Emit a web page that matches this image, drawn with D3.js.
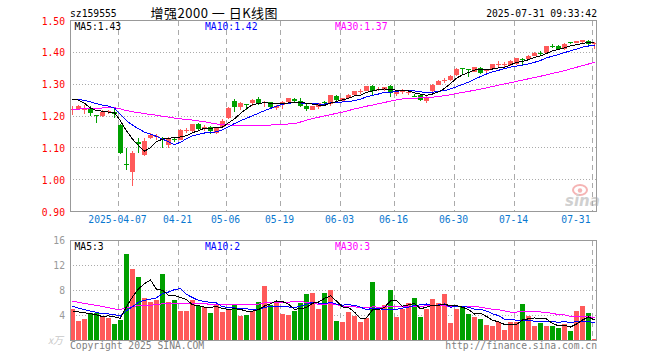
<!DOCTYPE html>
<html><head><meta charset="utf-8">
<script src="https://cdn.jsdelivr.net/npm/d3@7"></script>
<style>html,body{margin:0;padding:0;background:#fff;}svg{display:block}</style>
</head><body><svg id="c" width="660" height="360"></svg>
<script>
const symbol = "sz159555";
const title = "增强2000 一 日K线图";
const stamp = "2025-07-31 09:33:42";
const dates = ["03-25","03-26","03-27","03-28","03-31","04-01","04-02","04-03","04-07","04-08",
"04-09","04-10","04-11","04-14","04-15","04-16","04-17","04-18","04-21","04-22",
"04-23","04-24","04-25","04-28","04-29","04-30","05-06","05-07","05-08","05-09",
"05-12","05-13","05-14","05-15","05-16","05-19","05-20","05-21","05-22","05-23",
"05-26","05-27","05-28","05-29","05-30","06-03","06-04","06-05","06-06","06-09",
"06-10","06-11","06-12","06-13","06-16","06-17","06-18","06-19","06-20","06-23",
"06-24","06-25","06-26","06-27","06-30","07-01","07-02","07-03","07-04","07-07",
"07-08","07-09","07-10","07-11","07-14","07-15","07-16","07-17","07-18","07-21",
"07-22","07-23","07-24","07-25","07-28","07-29","07-30","07-31"];
const opens = [1.218,1.223,1.219,1.225,1.203,1.200,1.212,1.212,1.173,1.050,
1.024,1.118,1.079,1.130,1.134,1.130,1.108,1.128,1.126,1.152,
1.152,1.174,1.160,1.166,1.148,1.166,1.194,1.246,1.228,1.238,
1.240,1.253,1.240,1.244,1.225,1.235,1.243,1.253,1.248,1.232,
1.220,1.228,1.244,1.238,1.264,1.248,1.256,1.267,1.276,1.279,
1.293,1.282,1.282,1.295,1.270,1.275,1.272,1.263,1.267,1.246,
1.277,1.298,1.310,1.313,1.329,1.351,1.348,1.339,1.350,1.340,
1.347,1.360,1.360,1.360,1.363,1.379,1.378,1.390,1.398,1.399,
1.421,1.420,1.410,1.431,1.430,1.431,1.436,1.426];
const highs = [1.230,1.235,1.235,1.230,1.204,1.220,1.220,1.224,1.175,1.100,
1.090,1.130,1.130,1.148,1.145,1.135,1.135,1.133,1.158,1.162,
1.176,1.178,1.172,1.170,1.165,1.190,1.227,1.253,1.245,1.238,
1.252,1.259,1.248,1.244,1.236,1.246,1.258,1.258,1.258,1.238,
1.232,1.242,1.248,1.267,1.266,1.258,1.268,1.279,1.285,1.294,
1.298,1.290,1.292,1.298,1.282,1.285,1.282,1.270,1.270,1.262,
1.300,1.312,1.320,1.328,1.350,1.352,1.349,1.355,1.353,1.348,
1.364,1.372,1.369,1.375,1.383,1.382,1.392,1.400,1.404,1.421,
1.425,1.424,1.428,1.434,1.437,1.440,1.440,1.433];
const lows = [1.204,1.218,1.207,1.200,1.178,1.197,1.207,1.195,1.082,1.030,
0.980,1.083,1.075,1.128,1.126,1.100,1.100,1.118,1.124,1.148,
1.150,1.155,1.152,1.145,1.145,1.163,1.190,1.214,1.218,1.218,
1.230,1.236,1.227,1.222,1.220,1.222,1.240,1.244,1.228,1.217,
1.218,1.222,1.234,1.232,1.246,1.245,1.254,1.265,1.270,1.277,
1.267,1.278,1.280,1.261,1.262,1.270,1.265,1.260,1.248,1.241,
1.275,1.296,1.303,1.311,1.327,1.329,1.324,1.337,1.332,1.330,
1.345,1.354,1.352,1.358,1.361,1.358,1.376,1.388,1.392,1.397,
1.413,1.408,1.408,1.426,1.428,1.430,1.424,1.412];
const closes = [1.222,1.230,1.222,1.209,1.202,1.213,1.216,1.207,1.085,1.046,
1.084,1.113,1.120,1.140,1.138,1.126,1.128,1.125,1.155,1.156,
1.174,1.158,1.166,1.154,1.163,1.185,1.225,1.228,1.240,1.236,
1.251,1.240,1.244,1.228,1.232,1.245,1.256,1.246,1.232,1.222,
1.232,1.240,1.241,1.266,1.249,1.256,1.267,1.277,1.279,1.293,
1.278,1.285,1.290,1.271,1.280,1.278,1.274,1.261,1.251,1.261,
1.298,1.310,1.313,1.326,1.348,1.349,1.346,1.353,1.334,1.343,
1.362,1.363,1.363,1.373,1.381,1.377,1.390,1.399,1.396,1.420,
1.419,1.410,1.426,1.429,1.436,1.438,1.426,1.428];
const volumes = [5.0,3.04,3.36,4.37,4.27,3.73,3.57,2.56,3.2,13.76,
11.36,10.08,6.72,6.08,6.4,10.56,6.08,6.4,4.64,4.64,
6.4,5.44,5.23,4.32,5.55,4.48,5.0,5.6,3.89,4.0,
4.64,6.08,8.64,5.6,6.24,4.16,4.0,4.64,5.92,7.36,
7.52,4.96,7.52,8.0,3.09,2.88,4.48,3.84,2.88,3.52,
9.28,4.8,5.6,8.0,3.68,4.96,5.92,6.72,3.68,4.96,
6.56,5.92,7.36,2.72,4.96,5.23,4.16,3.68,3.36,2.4,
2.24,2.88,1.6,2.88,2.88,5.76,3.84,2.24,2.72,2.24,
2.24,1.92,2.56,1.44,4.64,5.44,4.32,0.16];
// sessions before the visible window (needed only for the moving averages)
const prevCloses = [1.17,1.18,1.19,1.19,1.18,1.19,1.20,1.21,1.20,1.19,1.20,1.21,1.22,1.21,1.22,
1.21,1.22,1.23,1.22,1.22,1.24,1.25,1.26,1.255,1.26,1.245,1.272,1.284,1.242];
const prevVolumes = [9.5,8.8,9.2,8.6,9.0,9.4,8.8,5.6,5.2,5.8,5.0,5.4,5.6,5.2,5.3,
5.5,5.1,5.4,5.2,5.2,6.4,6.0,6.6,6.2,6.0,3.74,4.01,5.22,5.23];
const priceTicks = [1.5,1.4,1.3,1.2,1.1,1.0,0.9];
const priceGrid = [1.4,1.3,1.2,1.1,1.0];
const volTicks = [16,12,8,4];
const tickDates = ["04-07","04-21","05-06","05-19","06-03","06-16","06-30","07-14","07-31"];
const tickLabels = ["2025-04-07","04-21","05-06","05-19","06-03","06-16","06-30","07-14","07-31"];
const maPeriods = [5,10,30];
const maColors = ["#000000","#0000ff","#ff00ff"];

const RED = "#ff5a5a", GREEN = "#00a000", GRID = "#aaaaaa", FRAME = "#999999";
const MONO = "'DejaVu Sans Mono', monospace";
const svg = d3.select("#c");
const L = 70, R = 597;
const x = d3.scaleBand().domain(dates).range([L, R]).paddingInner(1/6).paddingOuter(0);
const cx = d => x(d) + x.bandwidth() / 2;
const y = d3.scaleLinear().domain([0.9, 1.5]).range([211.5, 20.5]);
const vy = d3.scaleLinear().domain([0, 16]).range([340, 240]);

function movingAvg(vals, prev, n) {
  const all = prev.concat(vals);
  return vals.map((v, i) => {
    const j = prev.length + i;
    return d3.mean(all.slice(j - n + 1, j + 1));
  });
}
const priceMA = maPeriods.map(n => movingAvg(closes, prevCloses, n));
const volMA = maPeriods.map(n => movingAvg(volumes, prevVolumes, n));
const idx = d3.range(dates.length);
const up = i => closes[i] >= opens[i];

// ---------- frames & grids ----------
const panels = [{top: 20.5, bottom: 211.5}, {top: 240.5, bottom: 340.5}];
panels.forEach(p => {
  svg.append("g").selectAll("line").data(tickDates).join("line")
    .attr("x1", d => x(d) + 0.5).attr("x2", d => x(d) + 0.5)
    .attr("y1", p.top).attr("y2", p.bottom)
    .attr("stroke", GRID).attr("stroke-dasharray", "5,4").attr("shape-rendering", "crispEdges");
});
svg.append("g").selectAll("line").data(priceGrid).join("line")
  .attr("x1", L).attr("x2", R - 1)
  .attr("y1", d => Math.floor(y(d)) + 0.5).attr("y2", d => Math.floor(y(d)) + 0.5)
  .attr("stroke", GRID).attr("stroke-dasharray", "1,2").attr("shape-rendering", "crispEdges");
svg.append("g").selectAll("line").data(volTicks.filter(v => v < 16)).join("line")
  .attr("x1", L).attr("x2", R - 1)
  .attr("y1", d => Math.floor(vy(d)) + 0.5).attr("y2", d => Math.floor(vy(d)) + 0.5)
  .attr("stroke", GRID).attr("stroke-dasharray", "1,2").attr("shape-rendering", "crispEdges");

// ---------- candles ----------
const cg = svg.append("g").attr("shape-rendering", "crispEdges");
cg.selectAll("line").data(idx).join("line")
  .attr("x1", i => cx(dates[i])).attr("x2", i => cx(dates[i]))
  .attr("y1", i => y(highs[i])).attr("y2", i => y(lows[i]))
  .attr("stroke", i => up(i) ? RED : GREEN);
cg.selectAll("rect").data(idx).join("rect")
  .attr("x", i => x(dates[i])).attr("width", x.bandwidth())
  .attr("y", i => y(Math.max(opens[i], closes[i])))
  .attr("height", i => Math.max(1, Math.abs(y(opens[i]) - y(closes[i]))))
  .attr("fill", i => up(i) ? RED : GREEN);

// ---------- volume bars ----------
svg.append("g").attr("shape-rendering", "crispEdges").selectAll("rect").data(idx).join("rect")
  .attr("x", i => x(dates[i])).attr("width", x.bandwidth())
  .attr("y", i => vy(volumes[i])).attr("height", i => vy(0) - vy(volumes[i]))
  .attr("fill", i => up(i) ? RED : GREEN);

// ---------- MA lines ----------
const pLine = d3.line().x((v, i) => cx(dates[i])).y(v => y(v));
const vLine = d3.line().x((v, i) => cx(dates[i])).y(v => vy(v));
[2, 1, 0].forEach(k => {
  svg.append("path").attr("d", vLine(volMA[k])).attr("fill", "none")
    .attr("stroke", maColors[k]).attr("stroke-width", 1).attr("shape-rendering", "crispEdges");
});
[2, 1, 0].forEach(k => {
  svg.append("path").attr("d", pLine(priceMA[k])).attr("fill", "none")
    .attr("stroke", maColors[k]).attr("stroke-width", 1).attr("shape-rendering", "crispEdges");
});

// frames on top
panels.forEach(p => {
  svg.append("rect").attr("x", L + 0.5).attr("y", p.top).attr("width", R - L - 1)
    .attr("height", p.bottom - p.top).attr("fill", "none").attr("stroke", FRAME)
    .attr("shape-rendering", "crispEdges");
});

// ---------- axes ----------
const ya = svg.append("g").attr("transform", `translate(${L},0)`)
  .call(d3.axisLeft(y).tickValues(priceTicks).tickFormat(d3.format(".2f")).tickSize(0).tickPadding(5));
ya.select(".domain").remove();
ya.selectAll("text").attr("fill", "#ff0000").style("font", `9.7px ${MONO}`).attr("dy", "0.36em");

const va = svg.append("g").attr("transform", `translate(${L},0)`)
  .call(d3.axisLeft(vy).tickValues(volTicks).tickFormat(d3.format("d")).tickSize(0).tickPadding(5));
va.select(".domain").remove();
va.selectAll("text").attr("fill", "#999999").style("font", `9.7px ${MONO}`).attr("dy", "0.36em");

const xa = svg.append("g").attr("transform", `translate(${-x.bandwidth() / 2 - 0.5},212)`)
  .call(d3.axisBottom(x).tickValues(tickDates).tickFormat((d, i) => tickLabels[i]).tickSize(0).tickPadding(4));
xa.select(".domain").remove();
xa.selectAll("text").attr("fill", "#0a78d0").style("font", `9.7px ${MONO}`);
xa.selectAll(".tick").filter((d, i) => i === tickDates.length - 1)
  .select("text").attr("text-anchor", "end").attr("dx", "-1");

// ---------- header texts ----------
const txt = (s, xx, yy, col, anchor, font) => svg.append("text").attr("x", xx).attr("y", yy)
  .attr("fill", col).attr("text-anchor", anchor || "start").style("font", font || `9.7px ${MONO}`).text(s);
txt(symbol, 70, 16.5, "#000");
txt(title, 150.5, 17.5, "#000", "start", "13px 'Noto Sans CJK SC', sans-serif")
  .style("letter-spacing", "0.5px").style("white-space", "pre");
txt(stamp, 597, 16.5, "#000", "end");
const last = dates.length - 1;
const maX = [74.5, 205, 335];
maPeriods.forEach((n, k) => {
  txt(`MA${n}:${priceMA[k][last].toFixed(2)}`, maX[k], 29.5, maColors[k]);
  txt(`MA${n}:${Math.floor(volMA[k][last])}`, maX[k], 249.5, maColors[k]);
});
txt("x万", 48, 344, "#c8c8c8", "start", "italic 10px 'Noto Sans CJK SC', sans-serif");
txt("Copyright 2025 SINA.COM", 70, 349, "#808080");
txt("http://finance.sina.com.cn", 597, 349, "#808080", "end");

// ---------- sina watermark ----------
const wm = svg.append("g").attr("opacity", 0.55);
wm.append("ellipse").attr("cx", 580).attr("cy", 190).attr("rx", 7).attr("ry", 5)
  .attr("fill", "none").attr("stroke", "#ee7777").attr("stroke-width", 2);
wm.append("circle").attr("cx", 580).attr("cy", 190.5).attr("r", 2.2).attr("fill", "#ee7777");
wm.append("text").attr("x", 565).attr("y", 206).attr("fill", "#aaaaaa")
  .style("font", "italic bold 15px 'DejaVu Sans', sans-serif").text("sina");
</script></body></html>
